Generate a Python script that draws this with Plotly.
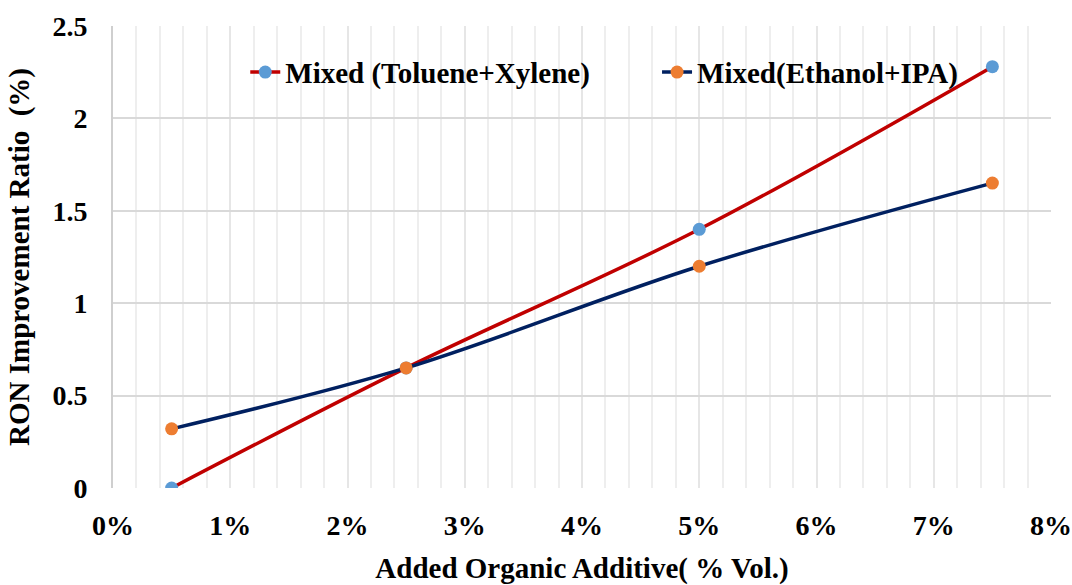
import plotly.graph_objects as go

# Added additive volume fraction (% vol.)
additive_pct = [0.5, 2.5, 5, 7.5]

# RON improvement ratio (%) per blend
toluene_xylene = [0.0, 0.65, 1.40, 2.28]
ethanol_ipa = [0.32, 0.65, 1.20, 1.65]

series_names = ["Mixed (Toluene+Xylene)", "Mixed(Ethanol+IPA)"]

FONT = "Liberation Serif, Times New Roman, serif"

fig = go.Figure()
fig.add_trace(go.Scatter(
    x=additive_pct, y=toluene_xylene, name=series_names[0],
    legend="legend", showlegend=True,
    mode="lines+markers", line=dict(color="#C00000", width=3.5, shape="spline"),
    marker=dict(color="#5B9BD5", size=13),
))
fig.add_trace(go.Scatter(
    x=additive_pct, y=ethanol_ipa, name=series_names[1],
    legend="legend2", showlegend=True,
    mode="lines+markers", line=dict(color="#002060", width=3.5, shape="spline"),
    marker=dict(color="#ED7D31", size=13),
))

legend_style = dict(
    orientation="h", y=0.90, xanchor="left", yanchor="middle", visible=True,
    bgcolor="rgba(0,0,0,0)", font=dict(size=29, family=FONT, weight="bold"),
)

fig.update_layout(
    width=1072, height=585,
    margin=dict(l=113, r=21, t=26, b=97),
    plot_bgcolor="white", paper_bgcolor="white",
    showlegend=True,
    font=dict(family=FONT, color="black", size=28, weight="bold"),
    legend=dict(x=0.141, **legend_style),
    legend2=dict(x=0.580, **legend_style),
    xaxis=dict(
        range=[0, 8], dtick=1, tick0=0, ticksuffix="%", automargin=False,
        showgrid=True, gridcolor="#E6E6E6", gridwidth=1.5,
        minor=dict(dtick=0.2, showgrid=True, gridcolor="#EEEEEE", gridwidth=1.5),
        zeroline=False, showline=False, ticks="", ticklabelstandoff=18,
        tickfont=dict(size=28, family=FONT, weight="bold"),
        title=dict(text="Added Organic Additive( % Vol.)", standoff=24,
                   font=dict(size=29, family=FONT, weight="bold")),
    ),
    yaxis=dict(
        range=[0, 2.5], dtick=0.5, tick0=0, automargin=False,
        showgrid=True, gridcolor="#D9D9D9", gridwidth=1.5,
        zeroline=False, showline=True, linecolor="#CFCFCF", linewidth=2,
        ticks="", ticklabelstandoff=18,
        tickfont=dict(size=28, family=FONT, weight="bold"),
        title=dict(text="RON Improvement Ratio  (%)", standoff=14,
                   font=dict(size=29, family=FONT, weight="bold")),
    ),
)

fig.write_html("out.html")
